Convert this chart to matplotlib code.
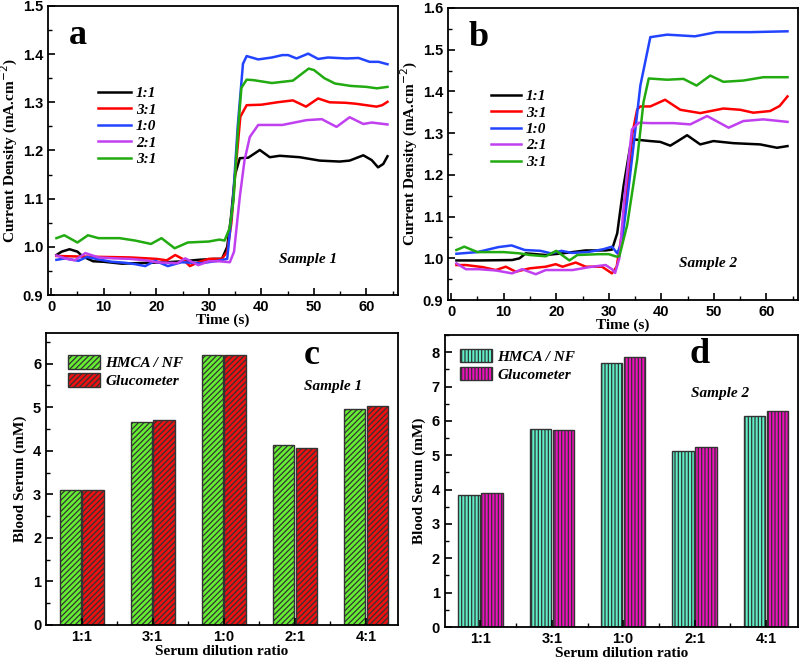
import matplotlib
matplotlib.use('Agg')
import matplotlib.pyplot as plt
from matplotlib.ticker import MultipleLocator, FixedLocator

# ---- panel a: sample 1 amperometric curves (time s, current mA/cm2)
a_black_t = [1, 2, 3.5, 5, 6, 8, 10, 13.5, 16, 19, 22, 25, 28, 31, 32.5, 33.5, 34.2, 35, 35.9, 37.5, 39.7, 41.6, 43.5, 47.3, 51.1, 54.9, 56.8, 59.4, 61, 62.2, 63.2, 64]
a_black_v = [0.983, 0.99, 0.995, 0.99, 0.98, 0.970, 0.969, 0.965, 0.966, 0.967, 0.968, 0.970, 0.973, 0.975, 0.975, 1.0, 1.06, 1.15, 1.184, 1.185, 1.201, 1.186, 1.189, 1.186, 1.179, 1.177, 1.179, 1.190, 1.180, 1.165, 1.172, 1.188]
a_red_t = [1, 5, 10, 15, 20, 22, 23.6, 25, 26.4, 28, 30, 32.5, 33.5, 34.3, 35, 36, 37.2, 40, 43, 46, 48.5, 50.8, 53, 56, 58, 61.9, 63, 64]
a_red_v = [0.981, 0.980, 0.979, 0.978, 0.975, 0.972, 0.983, 0.975, 0.960, 0.968, 0.975, 0.975, 0.99, 1.05, 1.15, 1.27, 1.294, 1.295, 1.300, 1.304, 1.291, 1.308, 1.300, 1.299, 1.297, 1.291, 1.294, 1.301]
a_blue_t = [1, 2.7, 5.2, 6.8, 9, 11.5, 14, 16, 17.9, 19.8, 22.2, 24.8, 28.6, 31.7, 33.5, 34.6, 35.5, 36.5, 37.2, 39.4, 42, 44, 45.1, 46.7, 48.9, 50.8, 52.7, 56.2, 58.5, 60.6, 62.3, 64]
a_blue_v = [0.973, 0.976, 0.971, 0.979, 0.974, 0.969, 0.967, 0.964, 0.960, 0.971, 0.960, 0.968, 0.966, 0.971, 0.975, 1.097, 1.25, 1.38, 1.396, 1.389, 1.393, 1.398, 1.398, 1.391, 1.401, 1.390, 1.393, 1.391, 1.392, 1.384, 1.384, 1.379]
a_purple_t = [1, 3, 4.5, 6.5, 9, 12, 15, 18, 20, 24, 25.5, 28, 30, 32, 34, 34.8, 35.9, 36.8, 37.8, 39.4, 44, 48.6, 51.5, 54.3, 56.8, 59.4, 61, 64]
a_purple_v = [0.982, 0.975, 0.972, 0.987, 0.978, 0.976, 0.975, 0.972, 0.968, 0.966, 0.976, 0.962, 0.970, 0.970, 0.968, 0.99, 1.104, 1.18, 1.228, 1.253, 1.253, 1.263, 1.265, 1.249, 1.269, 1.255, 1.258, 1.254]
a_green_t = [1, 2.5, 5, 7, 9, 13, 16, 19, 21, 23.5, 26, 30, 32, 33, 34, 34.7, 35.5, 36.2, 37.2, 38.5, 42, 46, 49, 50, 52, 54, 57, 60, 62, 64]
a_green_v = [1.018, 1.024, 1.009, 1.024, 1.018, 1.018, 1.013, 1.006, 1.018, 0.997, 1.009, 1.011, 1.015, 1.013, 1.04, 1.097, 1.235, 1.330, 1.347, 1.346, 1.340, 1.345, 1.370, 1.367, 1.350, 1.339, 1.334, 1.332, 1.329, 1.332]

# ---- panel b: sample 2
b_black_t = [1, 5.3, 11.6, 13, 14.2, 18, 21.2, 25.6, 29.4, 30.6, 31.6, 32.8, 34.1, 34.7, 37.9, 39.8, 41.7, 43, 44.9, 47.4, 49.9, 53.7, 58.8, 62, 64]
b_black_v = [0.995, 0.995, 0.996, 1.0, 1.012, 1.008, 1.012, 1.019, 1.019, 1.021, 1.06, 1.173, 1.27, 1.285, 1.281, 1.279, 1.270, 1.280, 1.295, 1.273, 1.281, 1.276, 1.273, 1.265, 1.269]
b_red_t = [1, 2.8, 6, 8.5, 10.4, 12.3, 14.9, 18, 19.9, 21.2, 23.7, 25.6, 28.7, 30.6, 31.5, 33, 34.5, 35.4, 36, 37.9, 40.7, 43.6, 47.4, 51.8, 55, 57.5, 60.7, 62.5, 64]
b_red_v = [0.984, 0.984, 0.979, 0.972, 0.980, 0.968, 0.976, 0.980, 0.986, 0.980, 0.990, 0.980, 0.980, 0.964, 0.98, 1.10, 1.30, 1.357, 1.364, 1.364, 1.380, 1.356, 1.348, 1.359, 1.356, 1.349, 1.353, 1.365, 1.388]
b_blue_t = [1, 5, 9, 11.5, 14, 17, 19, 21, 23, 26, 29, 30.6, 31.6, 32.5, 33.5, 34.7, 36, 37.9, 41.1, 46.4, 50.5, 56.9, 64]
b_blue_v = [1.011, 1.015, 1.027, 1.031, 1.020, 1.018, 1.012, 1.018, 1.013, 1.015, 1.022, 1.028, 1.012, 1.04, 1.14, 1.27, 1.414, 1.530, 1.536, 1.532, 1.542, 1.542, 1.544]
b_purple_t = [1, 2.8, 5.3, 8.5, 11.6, 13.5, 16.1, 18, 23.1, 26.3, 29.4, 30.6, 31.2, 32, 33, 34.4, 35.7, 37.9, 42.3, 45.5, 48.7, 52.8, 55.6, 59.4, 64]
b_purple_v = [0.988, 0.974, 0.974, 0.971, 0.964, 0.974, 0.962, 0.972, 0.972, 0.979, 0.984, 0.974, 0.965, 1.0, 1.15, 1.309, 1.325, 1.324, 1.324, 1.321, 1.341, 1.313, 1.329, 1.333, 1.327]
b_green_t = [1, 2.5, 5, 10, 13, 15, 18, 20, 22.5, 24, 28, 30, 31.5, 32, 33.5, 35.4, 36.6, 37.6, 41.1, 44.2, 46.7, 49.3, 51.8, 55.6, 59.4, 64]
b_green_v = [1.020, 1.028, 1.015, 1.015, 1.012, 1.008, 1.005, 1.018, 0.995, 1.008, 1.010, 1.010, 1.004, 1.005, 1.08, 1.237, 1.374, 1.431, 1.428, 1.430, 1.414, 1.438, 1.423, 1.426, 1.434, 1.434]

line_labels = ['1:1', '3:1', '1:0', '2:1', '3:1']
line_colors = ['black', 'red', '#2244ff', '#c040f0', '#22aa11']

# ---- panels c/d: bars
ratios = ['1:1', '3:1', '1:0', '2:1', '4:1']
c_hmca = [3.10, 4.65, 6.20, 4.13, 4.96]
c_gluco = [3.09, 4.71, 6.19, 4.07, 5.03]
d_hmca = [3.84, 5.75, 7.68, 5.11, 6.14]
d_gluco = [3.89, 5.74, 7.85, 5.23, 6.29]

serif = 'Liberation Serif'
sans = 'Liberation Sans'
plt.rcParams['hatch.linewidth'] = 0.9

fig = plt.figure(figsize=(8, 6.61), dpi=100)
ax_a = fig.add_axes([0.06, 0.5537, 0.4375, 0.4373])
ax_b = fig.add_axes([0.56, 0.546, 0.4375, 0.442])
ax_c = fig.add_axes([0.0575, 0.0545, 0.44, 0.4415])
ax_d = fig.add_axes([0.556, 0.0514, 0.4415, 0.4418])


def style_axes(ax):
    for s in ax.spines.values():
        s.set_linewidth(1.3)
    ax.tick_params(which='both', direction='in', top=False, right=False)
    ax.tick_params(which='major', length=5, width=1.2)
    ax.tick_params(which='minor', length=3, width=1.0)
    for lab in ax.get_xticklabels() + ax.get_yticklabels():
        lab.set_fontfamily(sans)
        lab.set_fontweight('bold')
        lab.set_fontsize(10.5)


def draw_lines(ax, series, ylim, letter, sample, leg_anchor, hlen):
    handles = []
    for (t, v), lab, col in zip(series, line_labels, line_colors):
        h, = ax.plot(t, v, color=col, lw=1.8, label=lab)
        handles.append(h)
    ax.set_xlim(-0.6, 66)
    ax.set_ylim(*ylim)
    ax.xaxis.set_major_locator(MultipleLocator(10))
    ax.xaxis.set_minor_locator(MultipleLocator(5))
    ax.yaxis.set_major_locator(MultipleLocator(0.1))
    ax.yaxis.set_minor_locator(MultipleLocator(0.05))
    ax.set_xlabel('Time (s)', fontfamily=serif, fontweight='bold', fontsize=11, labelpad=0)
    ax.set_ylabel('Current Density (mA.cm$^{-2}$)', fontfamily=serif, fontweight='bold', fontsize=11, labelpad=2)
    style_axes(ax)
    ax.text(0.06, 0.87, letter, transform=ax.transAxes, fontfamily=serif, fontweight='bold', fontsize=26)
    ax.text(0.743, 0.124, sample, transform=ax.transAxes, fontfamily=serif, fontweight='bold',
            fontstyle='italic', fontsize=11, ha='center', va='center')
    ax.legend(handles=handles, loc='upper left', bbox_to_anchor=leg_anchor, frameon=False,
              prop={'family': serif, 'weight': 'bold', 'style': 'italic', 'size': 11},
              handlelength=hlen, handletextpad=0.3, labelspacing=0.18, borderaxespad=0)


draw_lines(ax_a, [(a_black_t, a_black_v), (a_red_t, a_red_v), (a_blue_t, a_blue_v),
                  (a_purple_t, a_purple_v), (a_green_t, a_green_v)],
           (0.9, 1.5), 'a', 'Sample 1', (0.125, 0.742), 2.2)
draw_lines(ax_b, [(b_black_t, b_black_v), (b_red_t, b_red_v), (b_blue_t, b_blue_v),
                  (b_purple_t, b_purple_v), (b_green_t, b_green_v)],
           (0.9, 1.6), 'b', 'Sample 2', (0.105, 0.742), 2.0)


def draw_bars(ax, v1, v2, c1, c2, hatch, ylim, letter, sample, letter_pos, sample_pos, leg_anchor):
    x = list(range(len(ratios)))
    ax.bar([i - 0.16 for i in x], v1, width=0.3, color=c1, edgecolor='#333333',
           hatch=hatch, linewidth=1.0, label='HMCA / NF')
    ax.bar([i + 0.16 for i in x], v2, width=0.3, color=c2, edgecolor='#333333',
           hatch=hatch, linewidth=1.0, label='Glucometer')
    ax.set_xlim(-0.5, 4.45)
    ax.set_ylim(*ylim)
    ax.set_xticks(x)
    ax.set_xticklabels(ratios)
    ax.xaxis.set_minor_locator(FixedLocator([i + 0.5 for i in x[:-1]]))
    ax.yaxis.set_major_locator(MultipleLocator(1))
    ax.yaxis.set_minor_locator(MultipleLocator(0.5))
    ax.set_xlabel('Serum dilution ratio', fontfamily=serif, fontweight='bold', fontsize=11, labelpad=1)
    ax.set_ylabel('Blood Serum (mM)', fontfamily=serif, fontweight='bold', fontsize=11, labelpad=4)
    style_axes(ax)
    ax.text(*letter_pos, letter, transform=ax.transAxes, fontfamily=serif, fontweight='bold',
            fontsize=26, ha='center', va='baseline')
    ax.text(*sample_pos, sample, transform=ax.transAxes, fontfamily=serif, fontweight='bold',
            fontstyle='italic', fontsize=11, ha='center', va='baseline')
    ax.legend(loc='upper left', bbox_to_anchor=leg_anchor, frameon=False,
              prop={'family': serif, 'weight': 'bold', 'style': 'italic', 'size': 11},
              handlelength=2.1, handleheight=1.0, handletextpad=0.35, labelspacing=0.2, borderaxespad=0)


draw_bars(ax_c, c_hmca, c_gluco, '#66ee33', '#ee1111', '//////', (0, 6.7), 'c', 'Sample 1',
          (0.755, 0.894), (0.815, 0.805), (0.045, 0.946))
draw_bars(ax_d, d_hmca, d_gluco, '#5ff0c8', '#ee11bb', '|||||', (0, 8.5), 'd', 'Sample 2',
          (0.722, 0.904), (0.779, 0.788), (0.025, 0.974))

fig.savefig('out.png', dpi=100)
